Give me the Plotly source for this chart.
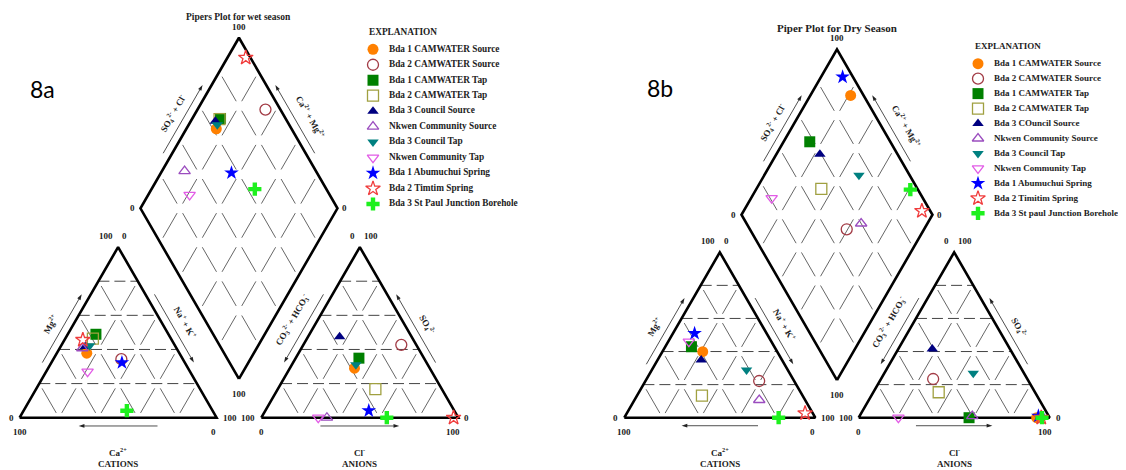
import math
import plotly.graph_objects as go

# ---------------- data (percent of meq) ----------------
names_wet = ["Bda 1 CAMWATER Source", "Bda 2 CAMWATER Source", "Bda 1 CAMWATER Tap",
             "Bda 2 CAMWATER Tap", "Bda 3 Council Source", "Nkwen Community Source",
             "Bda 3 Council Tap", "Nkwen Community Tap", "Bda 1 Abumuchui Spring",
             "Bda 2 Timtim Spring", "Bda 3 St Paul Junction Borehole"]
names_dry = ["Bda 1 CAMWATER Source", "Bda 2 CAMWATER Source", "Bda 1 CAMWATER Tap",
             "Bda 2 CAMWATER Tap", "Bda 3 COuncil Source", "Nkwen Community Source",
             "Bda 3 Council Tap", "Nkwen Community Tap", "Bda 1 Abumuchui Spring",
             "Bda 2 Timitim Spring", "Bda 3 St paul Junction Borehole"]

# wet season
wet_ca   = [47.0, 31.2, 36.8, 39.6, 45.8, 47.8, 43.4, 52.0, 31.9, 45.1, 43.5]
wet_mg   = [37.8, 34.3, 48.9, 46.4, 41.7, 40.7, 42.1, 27.0, 32.3, 45.6, 4.1]
wet_nak  = [15.2, 34.5, 14.3, 14.0, 12.5, 11.5, 14.5, 21.0, 35.8, 9.3, 52.4]
wet_hco3 = [38.2, 7.6, 33.0, 33.7, 36.5, 66.7, 36.5, 71.1, 43.4, 2.4, 36.3]
wet_so4  = [29.0, 42.7, 34.9, 16.8, 47.5, 0.0, 31.0, 0.0, 4.1, 0.0, 0.0]
wet_cl   = [32.8, 49.7, 32.1, 49.5, 16.0, 33.3, 32.5, 28.9, 52.5, 97.6, 63.7]

# dry season
dry_ca   = [39.0, 18.3, 43.4, 52.7, 42.3, 24.0, 21.6, 43.2, 37.7, 4.0, 19.2]
dry_mg   = [39.9, 22.2, 42.9, 13.3, 34.9, 10.7, 28.8, 46.0, 51.0, 2.7, 0.0]
dry_nak  = [21.1, 59.5, 13.7, 34.0, 22.8, 65.3, 49.6, 10.8, 11.3, 93.3, 80.8]
dry_hco3 = [6.8, 49.3, 42.2, 50.4, 40.7, 40.0, 26.6, 79.2, 5.4, 4.4, 4.0]
dry_so4  = [0.0, 23.4, 0.0, 15.4, 41.5, 1.0, 26.8, 0.0, 1.0, 0.0, 0.0]
dry_cl   = [93.2, 27.3, 57.8, 34.2, 17.8, 59.0, 46.6, 20.8, 93.6, 95.6, 96.0]

symbols = ["circle", "circle-open", "square", "square-open", "triangle-up",
           "triangle-up-open", "triangle-down", "triangle-down-open", "star",
           "star-open", "cross"]
colors = ["#FF8000", "#A23B45", "#008000", "#A0A040", "#000080", "#9B4DBF",
          "#008080", "#E25CE6", "#0000FF", "#F03C3C", "#1EF01E"]
sizes = [11, 11, 11, 11, 10, 10, 10, 10, 11, 11, 11]

tick_lo, tick_hi = "0", "100"

# ---------------- geometry ----------------
GAP = 22.7
H = math.sqrt(3) / 2
SERIF = "Liberation Serif"
TXT = "#222222"

# page body has an 8px margin: figure pixel = page pixel - OFF
OFF = 8
W, HT = 1126 - OFF, 470 - OFF
SPLIT = 563 - OFF


def cat_xy(ca, mg, nak):
    t = ca + mg + nak
    mg, nak = mg / t * 100, nak / t * 100
    return nak + mg / 2, mg * H


def an_xy(hco3, so4, cl):
    t = hco3 + so4 + cl
    so4, cl = so4 / t * 100, cl / t * 100
    return 100 + GAP + cl + so4 / 2, so4 * H


def dia_pt(c, s):
    return 100 + GAP / 2 + (s - c) / 2, H * (GAP + c + s)


def dia_xy(ca, mg, nak, hco3, so4, cl):
    c = (ca + mg) / (ca + mg + nak) * 100
    s = (so4 + cl) / (hco3 + so4 + cl) * 100
    return dia_pt(c, s)


L, R, T = (0, 0), (100, 0), (50, 100 * H)
L2, R2, T2 = (100 + GAP, 0), (200 + GAP, 0), (150 + GAP, 100 * H)
B, Lm, Rm, TOP = dia_pt(0, 0), dia_pt(100, 0), dia_pt(0, 100), dia_pt(100, 100)

fig = go.Figure()
annotations = []


def seg_add(xs, ys, p, q, f=0.0):
    xs += [p[0] + (q[0] - p[0]) * f, p[0] + (q[0] - p[0]) * (1 - f), None]
    ys += [p[1] + (q[1] - p[1]) * f, p[1] + (q[1] - p[1]) * (1 - f), None]


def edge_pt(p0, p1, t, d, nrm):
    return (p0[0] + (p1[0] - p0[0]) * t + nrm[0] * d,
            p0[1] + (p1[1] - p0[1]) * t + nrm[1] * d)


def add_piper(xa, ya, ca, mg, nak, hco3, so4, cl, names, title, title_size):
    xr, yr = xa, ya
    # grid: dashed horizontals
    hx, hy = [], []
    for x0 in (0, 100 + GAP):
        for k in range(1, 5):
            h = 20 * k
            seg_add(hx, hy, (x0 + h / 2, h * H), (x0 + 100 - h / 2, h * H), 0.0)
    fig.add_trace(go.Scatter(x=hx, y=hy, mode="lines", xaxis=xa, yaxis=ya,
                             line=dict(color="#444444", width=1, dash="11px,5px"),
                             showlegend=False, hoverinfo="skip"))
    # grid: diagonal segments with gaps
    gx, gy = [], []
    f = 0.14
    for x0 in (0, 100 + GAP):
        for i in range(1, 5):
            for j in range(0, 5 - i):
                seg_add(gx, gy, (x0 + 20 * i + 10 * j, 20 * H * j),
                        (x0 + 20 * i + 10 * (j + 1), 20 * H * (j + 1)), f)
            for j in range(0, i):
                seg_add(gx, gy, (x0 + 20 * i - 10 * j, 20 * H * j),
                        (x0 + 20 * i - 10 * (j + 1), 20 * H * (j + 1)), f)
    for i in range(1, 5):
        for j in range(5):
            seg_add(gx, gy, dia_pt(20 * i, 20 * j), dia_pt(20 * i, 20 * (j + 1)), f)
            seg_add(gx, gy, dia_pt(20 * j, 20 * i), dia_pt(20 * (j + 1), 20 * i), f)
    fig.add_trace(go.Scatter(x=gx, y=gy, mode="lines", xaxis=xa, yaxis=ya,
                             line=dict(color="#555555", width=0.9),
                             showlegend=False, hoverinfo="skip"))
    # outlines
    ox = [L[0], R[0], T[0], L[0], None, L2[0], R2[0], T2[0], L2[0], None,
          B[0], Rm[0], TOP[0], Lm[0], B[0]]
    oy = [L[1], R[1], T[1], L[1], None, L2[1], R2[1], T2[1], L2[1], None,
          B[1], Rm[1], TOP[1], Lm[1], B[1]]
    fig.add_trace(go.Scatter(x=ox, y=oy, mode="lines", xaxis=xa, yaxis=ya,
                             line=dict(color="black", width=2.6),
                             showlegend=False, hoverinfo="skip"))

    # text helpers
    def txt(x, y, s, xs=0, ys=0, xanchor="center", angle=0, size=9):
        annotations.append(dict(x=x, y=y, xref=xr, yref=yr, text=s, showarrow=False,
                                xshift=xs, yshift=ys, xanchor=xanchor, yanchor="middle",
                                textangle=angle,
                                font=dict(family=SERIF, size=size, color=TXT, weight="bold")))

    axx, axy, asz = [], [], []

    def arrow(tail, head):
        axx.extend([tail[0], head[0], None])
        axy.extend([tail[1], head[1], None])
        asz.extend([0, 6, 0])

    nl = (-H, 0.5)
    nr = (H, 0.5)
    # title
    txt(TOP[0], TOP[1], title, ys=21, size=title_size)
    # diamond ticks
    txt(TOP[0], TOP[1], tick_hi, ys=11)
    txt(Lm[0], Lm[1], tick_lo, xs=-8)
    txt(Rm[0], Rm[1], tick_lo, xs=7)
    txt(B[0], B[1], tick_hi, ys=-15)
    # cation ticks
    txt(T[0], T[1], tick_hi, xs=-3, ys=11, xanchor="right")
    txt(T[0], T[1], tick_lo, xs=2, ys=11, xanchor="left")
    txt(L[0], L[1], tick_lo, xs=-4, xanchor="right")
    txt(L[0], L[1], tick_hi, ys=-14)
    txt(R[0], R[1], tick_hi, xs=4, xanchor="left")
    txt(R[0], R[1], tick_lo, xs=-3, ys=-14)
    # anion ticks
    txt(T2[0], T2[1], tick_lo, xs=-3, ys=11, xanchor="right")
    txt(T2[0], T2[1], tick_hi, xs=2, ys=11, xanchor="left")
    txt(L2[0], L2[1], tick_hi, xs=-4, xanchor="right")
    txt(L2[0], L2[1], tick_lo, ys=-14)
    txt(R2[0], R2[1], tick_lo, xs=4, xanchor="left")
    txt(R2[0], R2[1], tick_hi, xs=-5, ys=-14)

    # edge labels and arrows
    p = edge_pt(L, T, 0.49, 10.5, nl)
    txt(p[0], p[1], "Mg<sup>2+</sup>", angle=-60)
    arrow(edge_pt(L, T, 0.30, 4, nl), edge_pt(L, T, 0.70, 4, nl))
    p = edge_pt(R, T, 0.50, 10.5, nr)
    txt(p[0], p[1], "Na<sup>+</sup> + K<sup>+</sup>", angle=60)
    arrow(edge_pt(R, T, 0.70, 4, nr), edge_pt(R, T, 0.30, 4, nr))
    arrow((70, -4.2), (30, -4.2))
    txt(50, 0, "Ca<sup>2+</sup>", ys=-34)
    txt(50, 0, "CATIONS", ys=-46)

    p = edge_pt(L2, T2, 0.51, 11.5, nl)
    txt(p[0], p[1], "CO<sub>3</sub><sup>2-</sup> + HCO<sub>3</sub><sup>-</sup>", angle=-60)
    arrow(edge_pt(L2, T2, 0.70, 4, nl), edge_pt(L2, T2, 0.30, 4, nl))
    p = edge_pt(R2, T2, 0.49, 10, nr)
    txt(p[0], p[1], "SO<sub>4</sub><sup>2-</sup>", angle=60)
    arrow(edge_pt(R2, T2, 0.30, 4, nr), edge_pt(R2, T2, 0.70, 4, nr))
    arrow((L2[0] + 30, -4.2), (L2[0] + 70, -4.2))
    txt(L2[0] + 50, 0, "Cl<sup>-</sup>", ys=-34)
    txt(L2[0] + 50, 0, "ANIONS", ys=-46)

    p = edge_pt(Lm, TOP, 0.50, 10, nl)
    txt(p[0], p[1], "SO<sub>4</sub><sup>2-</sup> + Cl<sup>-</sup>", angle=-60)
    arrow(edge_pt(Lm, TOP, 0.30, 4, nl), edge_pt(Lm, TOP, 0.70, 4, nl))
    p = edge_pt(Rm, TOP, 0.47, 11.5, nr)
    txt(p[0], p[1], "Ca<sup>2+</sup> + Mg<sup>2+</sup>", angle=60)
    arrow(edge_pt(Rm, TOP, 0.30, 4, nr), edge_pt(Rm, TOP, 0.70, 4, nr))

    fig.add_trace(go.Scatter(x=axx, y=axy, mode="lines+markers", xaxis=xa, yaxis=ya,
                             line=dict(color="#222222", width=0.8),
                             marker=dict(symbol="arrow", size=asz, color="#222222",
                                         opacity=1, angleref="previous", line=dict(width=0)),
                             showlegend=False, hoverinfo="skip"))

    # samples
    for k in range(len(names)):
        p1 = cat_xy(ca[k], mg[k], nak[k])
        p2 = an_xy(hco3[k], so4[k], cl[k])
        p3 = dia_xy(ca[k], mg[k], nak[k], hco3[k], so4[k], cl[k])
        open_ = symbols[k].endswith("open")
        fig.add_trace(go.Scatter(
            x=[p1[0], p2[0], p3[0]], y=[p1[1], p2[1], p3[1]], mode="markers",
            xaxis=xa, yaxis=ya, name=names[k], showlegend=False,
            marker=dict(symbol=symbols[k], size=sizes[k], color=colors[k], opacity=1,
                        line=dict(color=colors[k], width=1.3 if open_ else 0))))


def add_key(xa, ya, names, title_px, font_size):
    """'EXPLANATION' key: one row per sample, marker column at x=0, label at x=1."""
    idx = list(range(len(names)))
    fig.add_trace(go.Scatter(
        x=[0] * len(names), y=idx, mode="markers", xaxis=xa, yaxis=ya,
        showlegend=False, hoverinfo="skip",
        marker=dict(symbol=symbols, size=sizes, color=colors, opacity=1,
                    line=dict(color=colors,
                              width=[1.3 if s.endswith("open") else 0 for s in symbols]))))
    fig.add_trace(go.Scatter(
        x=[1] * len(names), y=idx, mode="text", text=names, textposition="middle right",
        xaxis=xa, yaxis=ya, showlegend=False, hoverinfo="skip",
        textfont=dict(family=SERIF, size=font_size, color=TXT, weight="bold")))
    annotations.append(dict(x=(title_px[0] - OFF) / W, y=1 - (title_px[1] - OFF) / HT,
                            xref="paper", yref="paper", text="EXPLANATION",
                            showarrow=False, xanchor="left", yanchor="middle",
                            font=dict(family=SERIF, size=font_size, color=TXT,
                                      weight="bold")))


add_piper("x", "y", wet_ca, wet_mg, wet_nak, wet_hco3, wet_so4, wet_cl,
          names_wet, "Pipers Plot for wet season", 9.5)
add_piper("x2", "y2", dry_ca, dry_mg, dry_nak, dry_hco3, dry_so4, dry_cl,
          names_dry, "Piper Plot for Dry Season", 11)
add_key("x3", "y3", names_wet, (366.5, 32.3), 9.3)
add_key("x4", "y4", names_dry, (972.5, 45.7), 9.0)

for tag, px, py in (("8a", 42, 89), ("8b", 660, 88)):
    annotations.append(dict(x=(px - OFF) / W, y=1 - (py - OFF) / HT, xref="paper",
                            yref="paper", text=tag, showarrow=False, xanchor="center",
                            yanchor="middle",
                            font=dict(family="Lato", size=23, color="black")))

k1, o1 = 1.97, (19.6 - OFF, 417.7 - OFF)
k2, o2 = 1.91, (624.3 - OFF, 417.7 - OFF)
ax_common = dict(visible=False, showgrid=False, zeroline=False, fixedrange=True)


def key_axes(x_marker, x_text, y_first, step, left, right, top, bottom):
    """axis layout for a key placed in page pixels"""
    dx = x_text - x_marker
    xa = dict(domain=[(left - OFF) / W, (right - OFF) / W],
              range=[(left - x_marker) / dx, (right - x_marker) / dx], **ax_common)
    ya = dict(domain=[1 - (bottom - OFF) / HT, 1 - (top - OFF) / HT],
              range=[(bottom - y_first) / step, (top - y_first) / step], **ax_common)
    return xa, ya


x3, y3 = key_axes(373, 389, 49.3, 15.47, 360, 555, 40, 215)
x4, y4 = key_axes(978, 994, 63.7, 14.96, 965, 1125, 54, 222)

fig.update_layout(
    width=W, height=HT, autosize=False,
    margin=dict(l=0, r=0, t=0, b=0),
    paper_bgcolor="white", plot_bgcolor="white",
    xaxis=dict(domain=[0, SPLIT / W], range=[-o1[0] / k1, (SPLIT - o1[0]) / k1], **ax_common),
    yaxis=dict(domain=[0, 1], range=[(o1[1] - HT) / k1, o1[1] / k1], **ax_common),
    xaxis2=dict(domain=[SPLIT / W, 1], range=[(SPLIT - o2[0]) / k2, (W - o2[0]) / k2],
                **ax_common),
    yaxis2=dict(domain=[0, 1], range=[(o2[1] - HT) / k2, o2[1] / k2], **ax_common),
    xaxis3=dict(anchor="y3", **x3), yaxis3=dict(anchor="x3", **y3),
    xaxis4=dict(anchor="y4", **x4), yaxis4=dict(anchor="x4", **y4),
    annotations=annotations,
    showlegend=False,
)

fig.write_html("out.html")
